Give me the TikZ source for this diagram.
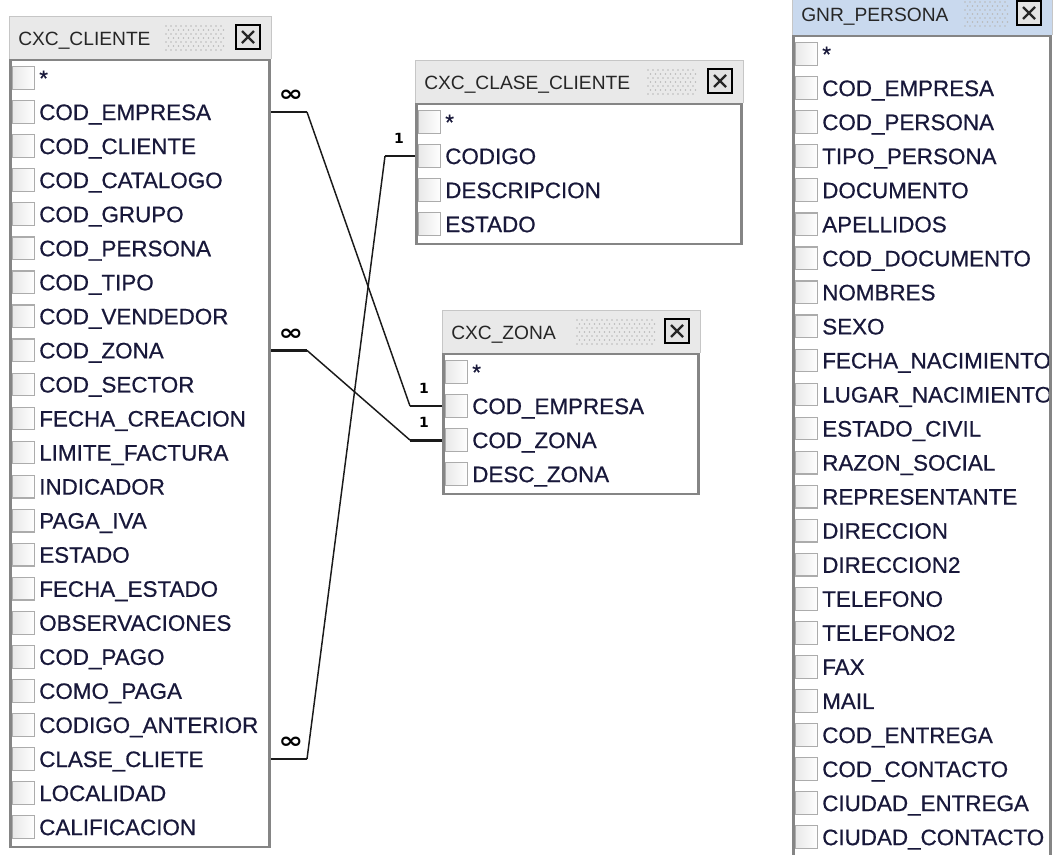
\documentclass[tikz,border=0pt]{standalone}
\usepackage{fontspec}
\setmainfont{Liberation Sans}
\newfontfamily\rowfont{Liberation Sans}[FakeBold=0.6]
\newfontfamily\lblfont{DejaVu Sans}
\definecolor{barinactive}{HTML}{E9E9E9}
\definecolor{baractive}{HTML}{C9D9EE}
\definecolor{framegray}{HTML}{858585}
\definecolor{ink}{HTML}{18183A}
\definecolor{titleink}{HTML}{262626}
\definecolor{linkink}{HTML}{1A1A1A}

\tikzset{
  barline/.style={draw=gray!45, line width=0.6pt},
  tableframe/.style={draw=framegray, line width=2pt},
  titletext/.style={font=\fontsize{14.4}{16}\selectfont, text=titleink, inner sep=0pt, anchor=base west},
  rowtext/.style={font=\rowfont\fontsize{16.8}{18}\selectfont, text=ink, inner sep=0pt, anchor=base west},
  checkbox/.style={draw=gray!65, line width=0.9pt, left color=gray!18, right color=white,
    minimum width=17pt, minimum height=17pt, inner sep=0pt},
  closebox/.style={draw=black, line width=1.5pt, fill=gray!22, minimum size=18pt, inner sep=0pt,
    path picture={
      \draw[line width=1.7pt, black!85]
        ([shift={(4.5pt,4.5pt)}]path picture bounding box.south west) --
        ([shift={(-4.5pt,-4.5pt)}]path picture bounding box.north east)
        ([shift={(4.5pt,-4.5pt)}]path picture bounding box.north west) --
        ([shift={(-4.5pt,4.5pt)}]path picture bounding box.south east);}},
  gripdot/.style={fill=gray!55},
  relstub/.style={draw=linkink, line width=2.1pt},
  rel/.style={draw=linkink, line width=1.1pt},
  manylbl/.style={font=\lblfont\bfseries\fontsize{17}{17}\selectfont, inner sep=0pt, text=black},
  onelbl/.style={font=\lblfont\bfseries\fontsize{10.5}{10.5}\selectfont, inner sep=0pt, text=black},
}

% #1 name, #2 left, #3 top, #4 right, #5 title, #6 bar colour, #7 grip start, #8 rows
\newcommand{\dbtable}[8]{%
  \def\nrows{0}%
  \foreach \r [count=\i] in {#8} {\xdef\nrows{\i}}%
  \pgfmathsetmacro\tbot{#3+62+(\nrows-1)*34.05+20}%
  % title bar
  \fill[#6] (#2,#3) rectangle (#4,#3+43);
  \draw[barline] (#2,#3+43) -- (#2,#3) -- (#4,#3) -- (#4,#3+43);
  \node[titletext] (#1-title) at (#2+9,#3+29) {#5};
  % grip
  \pgfmathtruncatemacro\ndots{(#4-47-#7)/5}%
  \foreach \j in {0,...,6} {
    \foreach \k in {0,...,\ndots} {
      \pgfmathsetmacro\gx{#7+5*\k+2.5*mod(\j,2)}%
      \pgfmathsetmacro\gy{#3+10+4*\j}%
      \fill[gripdot] (\gx,\gy) circle (0.6pt);
    }
  }
  \node[closebox] (#1-close) at (#4-23,#3+21) {};
  % body
  \fill[white] (#2,#3+44) rectangle (#4,\tbot);
  \foreach \r [count=\i] in {#8} {
    \pgfmathsetmacro\yy{#3+62+(\i-1)*34.05}%
    \node[checkbox] (#1-c\i) at (#2+14.5,\yy) {};
    \node[rowtext] (#1-r\i) at (#2+30,\yy+8) {\r};
    \coordinate (#1-e\i) at (#4,\yy);
    \coordinate (#1-w\i) at (#2,\yy);
  }
  \draw[tableframe] (#2+1.3,#3+44) rectangle (#4-1.3,\tbot);
}

\begin{document}
\begin{tikzpicture}[x=0.75pt,y=-0.75pt]
\useasboundingbox (0,0) rectangle (1055,854);
\clip (0,0) rectangle (1055,854);
\fill[white] (0,0) rectangle (1055,854);

\dbtable{cli}{9}{16}{271}{CXC\_CLIENTE}{barinactive}{166}{*,COD\_EMPRESA,COD\_CLIENTE,COD\_CATALOGO,COD\_GRUPO,COD\_PERSONA,COD\_TIPO,COD\_VENDEDOR,COD\_ZONA,COD\_SECTOR,FECHA\_CREACION,LIMITE\_FACTURA,INDICADOR,PAGA\_IVA,ESTADO,FECHA\_ESTADO,OBSERVACIONES,COD\_PAGO,COMO\_PAGA,CODIGO\_ANTERIOR,CLASE\_CLIETE,LOCALIDAD,CALIFICACION}

\dbtable{cla}{415}{60}{743}{CXC\_CLASE\_CLIENTE}{barinactive}{648}{*,CODIGO,DESCRIPCION,ESTADO}

\dbtable{zon}{442}{310}{700}{CXC\_ZONA}{barinactive}{577}{*,COD\_EMPRESA,COD\_ZONA,DESC\_ZONA}

\dbtable{gnr}{792}{-8}{1052}{GNR\_PERSONA}{baractive}{965}{*,COD\_EMPRESA,COD\_PERSONA,TIPO\_PERSONA,DOCUMENTO,APELLIDOS,COD\_DOCUMENTO,NOMBRES,SEXO,FECHA\_NACIMIENTO,LUGAR\_NACIMIENTO,ESTADO\_CIVIL,RAZON\_SOCIAL,REPRESENTANTE,DIRECCION,DIRECCION2,TELEFONO,TELEFONO2,FAX,MAIL,COD\_ENTREGA,COD\_CONTACTO,CIUDAD\_ENTREGA,CIUDAD\_CONTACTO}

% CXC_CLIENTE.COD_EMPRESA -> CXC_ZONA.COD_EMPRESA
\draw[relstub] (cli-e2) -- ++(36,0) coordinate (k1);
\draw[relstub] (zon-w2) -- ++(-32,0) coordinate (m1);
\draw[rel] (k1) -- (m1);
\node[manylbl] (n1) at ([shift={(20,-16)}]cli-e2) {\scalebox{1.3}[1]{∞}};
\node[onelbl] (o1) at ([shift={(-18,-18)}]zon-w2) {1};

% CXC_CLIENTE.COD_ZONA -> CXC_ZONA.COD_ZONA
\draw[relstub] (cli-e9) -- ++(36,0) coordinate (k2);
\draw[relstub] (zon-w3) -- ++(-32,0) coordinate (m2);
\draw[rel] (k2) -- (m2);
\node[manylbl] (n2) at ([shift={(20,-16)}]cli-e9) {\scalebox{1.3}[1]{∞}};
\node[onelbl] (o2) at ([shift={(-18,-18)}]zon-w3) {1};

% CXC_CLIENTE.CLASE_CLIETE -> CXC_CLASE_CLIENTE.CODIGO
\draw[relstub] (cli-e21) -- ++(36,0) coordinate (k3);
\draw[relstub] (cla-w2) -- ++(-30,0) coordinate (m3);
\draw[rel] (k3) -- (m3);
\node[manylbl] (n3) at ([shift={(20,-16)}]cli-e21) {\scalebox{1.3}[1]{∞}};
\node[onelbl] (o3) at ([shift={(-16,-18)}]cla-w2) {1};
\end{tikzpicture}
\end{document}
